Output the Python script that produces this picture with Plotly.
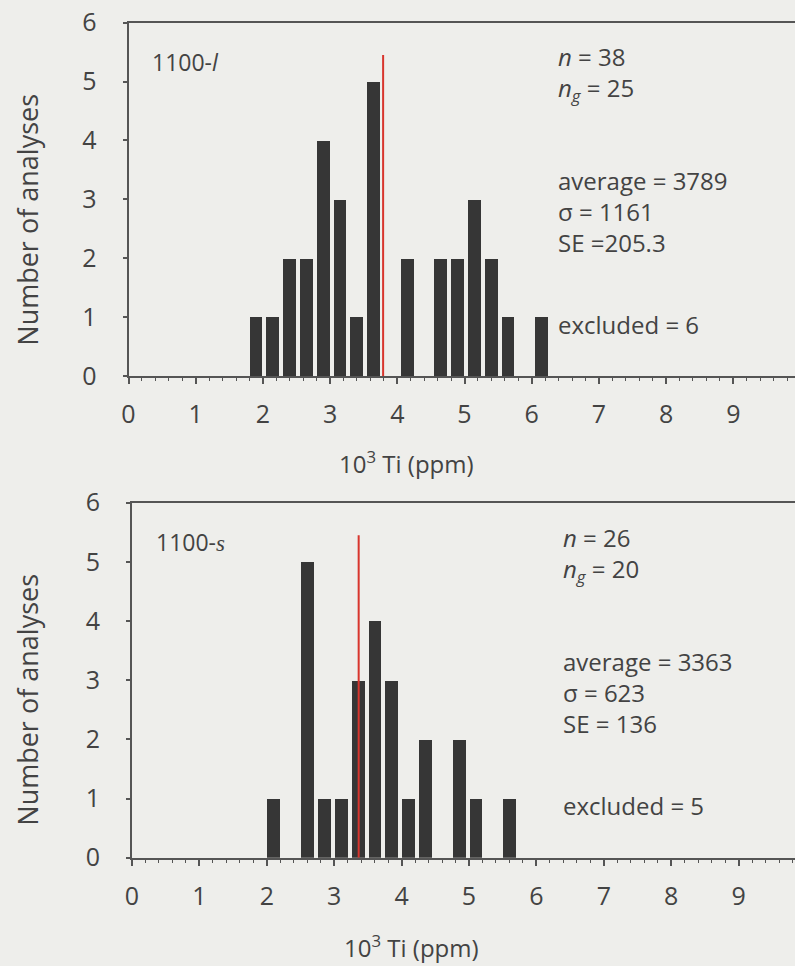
import plotly.graph_objects as go

# ---------------- data ----------------
top_bin_left = [1.75, 2.0, 2.25, 2.5, 2.75, 3.0, 3.25, 3.5, 4.0, 4.5, 4.75, 5.0, 5.25, 5.5, 6.0]
top_counts = [1, 1, 2, 2, 4, 3, 1, 5, 2, 2, 2, 3, 2, 1, 1]
top_average_ppm = 3789
top_label = "1100-<i>l</i>"
top_n = ["<i>n</i> = 38", "<i>n</i><sub><i>g</i></sub> = 25"]
top_stats = ["average = 3789", "σ = 1161", "SE =205.3"]
top_excluded = "excluded = 6"

bot_bin_left = [2.0, 2.5, 2.75, 3.0, 3.25, 3.5, 3.75, 4.0, 4.25, 4.75, 5.0, 5.5]
bot_counts = [1, 5, 1, 1, 3, 4, 3, 1, 2, 2, 1, 1]
bot_average_ppm = 3363
bot_label = "1100-<i style='font-family:Liberation Serif'>s</i>"
bot_n = ["<i>n</i> = 26", "<i>n</i><sub><i>g</i></sub> = 20"]
bot_stats = ["average = 3363", "σ = 623", "SE = 136"]
bot_excluded = "excluded = 5"

x_ticks = [0, 1, 2, 3, 4, 5, 6, 7, 8, 9]
y_ticks = [0, 1, 2, 3, 4, 5, 6]
x_title = "10<sup>3</sup> Ti (ppm)"
y_title = "Number of analyses"

# ---------------- style ----------------
BG = "#eeeeeb"
BAR = "#363636"
TXT = "#434343"
AX = "#555555"
RED = "#d8352d"
FONT = "Open Sans"
FS = 24
W, H = 795, 966
MEAN_LINE_TOP = 5.45
Y_NBLOCK, Y_STATS, Y_EXCL, Y_LABEL = 5.13, 2.80, 0.88, 5.33
X_STATS, X_LABEL = 6.36, 0.32

fig = go.Figure()

panels = [
    dict(bins=top_bin_left, counts=top_counts, avg=top_average_ppm, label=top_label,
         nlines=top_n, stats=top_stats, excl=top_excluded, xa="x", ya="y", offset=0.045,
         left=128.5, unit=67.2, top=22.7, bottom=376.0, xt=(406, 462)),
    dict(bins=bot_bin_left, counts=bot_counts, avg=bot_average_ppm, label=bot_label,
         nlines=bot_n, stats=bot_stats, excl=bot_excluded, xa="x2", ya="y2", offset=0.01,
         left=132.0, unit=67.4, top=502.7, bottom=857.7, xt=(411, 946)),
]

annotations = []
for i, p in enumerate(panels):
    fig.add_trace(go.Bar(x=p["bins"], y=p["counts"], xaxis=p["xa"], yaxis=p["ya"],
                         width=0.19, offset=p["offset"],
                         marker=dict(color=BAR, line=dict(width=0)),
                         showlegend=False, hoverinfo="skip"))
    avg = p["avg"] / 1000.0
    fig.add_trace(go.Scatter(x=[avg, avg], y=[0, MEAN_LINE_TOP], xaxis=p["xa"], yaxis=p["ya"],
                             mode="lines", line=dict(color=RED, width=2),
                             showlegend=False, hoverinfo="skip"))
    xr = (W - p["left"]) / p["unit"]
    sfx = "" if i == 0 else "2"
    fig.update_layout(**{
        "xaxis" + sfx: dict(
            domain=[p["left"] / W, 1.0], range=[0, xr], anchor=p["ya"], automargin=False,
            tickmode="array", tickvals=x_ticks, ticktext=[str(t) for t in x_ticks],
            ticks="outside", ticklen=6, tickwidth=1.5, tickcolor=AX,
            minor=dict(dtick=0.2, tick0=0, ticks="outside", ticklen=3, tickwidth=1.2,
                       tickcolor=AX),
            showline=True, linecolor=AX, linewidth=2, mirror=True,
            showgrid=False, zeroline=False, ticklabelstandoff=9,
            tickfont=dict(family=FONT, size=FS + 1, color=TXT), fixedrange=True),
        "yaxis" + sfx: dict(
            domain=[1 - p["bottom"] / H, 1 - p["top"] / H], range=[0, 6], anchor=p["xa"],
            automargin=False,
            tickmode="array", tickvals=y_ticks, ticktext=[str(t) for t in y_ticks],
            ticks="outside", ticklen=4, tickwidth=1.5, tickcolor=AX,
            showline=True, linecolor=AX, linewidth=2,
            showgrid=False, zeroline=False, ticklabelstandoff=21,
            tickfont=dict(family=FONT, size=FS + 1, color=TXT), fixedrange=True),
    })
    font = dict(family=FONT, size=FS, color=TXT)
    annotations.append(dict(x=X_LABEL, y=Y_LABEL, xref=p["xa"], yref=p["ya"], text=p["label"],
                            showarrow=False, xanchor="left", yanchor="middle",
                            font=dict(family=FONT, size=FS - 1, color=TXT)))
    annotations.append(dict(x=X_STATS, y=Y_NBLOCK, xref=p["xa"], yref=p["ya"],
                            text="<br>".join(p["nlines"]), align="left",
                            showarrow=False, xanchor="left", yanchor="middle", font=font))
    annotations.append(dict(x=X_STATS, y=Y_STATS, xref=p["xa"], yref=p["ya"],
                            text="<br>".join(p["stats"]), align="left",
                            showarrow=False, xanchor="left", yanchor="middle", font=font))
    annotations.append(dict(x=X_STATS, y=Y_EXCL, xref=p["xa"], yref=p["ya"], text=p["excl"],
                            showarrow=False, xanchor="left", yanchor="middle", font=font))
    annotations.append(dict(x=p["xt"][0] / W, y=1 - p["xt"][1] / H,
                            xref="paper", yref="paper", text=x_title, showarrow=False,
                            xanchor="center", yanchor="middle",
                            font=dict(family=FONT, size=FS, color=TXT)))
    annotations.append(dict(x=28 / W, y=1 - (p["top"] + 197) / H,
                            xref="paper", yref="paper", text=y_title, showarrow=False,
                            textangle=-90, xanchor="center", yanchor="middle",
                            font=dict(family=FONT, size=FS + 3, color=TXT)))

fig.update_layout(width=W, height=H, margin=dict(l=0, r=0, t=0, b=0, autoexpand=False),
                  paper_bgcolor=BG, plot_bgcolor=BG, bargap=0,
                  annotations=annotations, showlegend=False)

fig.write_html("out.html", config={"displayModeBar": False})
